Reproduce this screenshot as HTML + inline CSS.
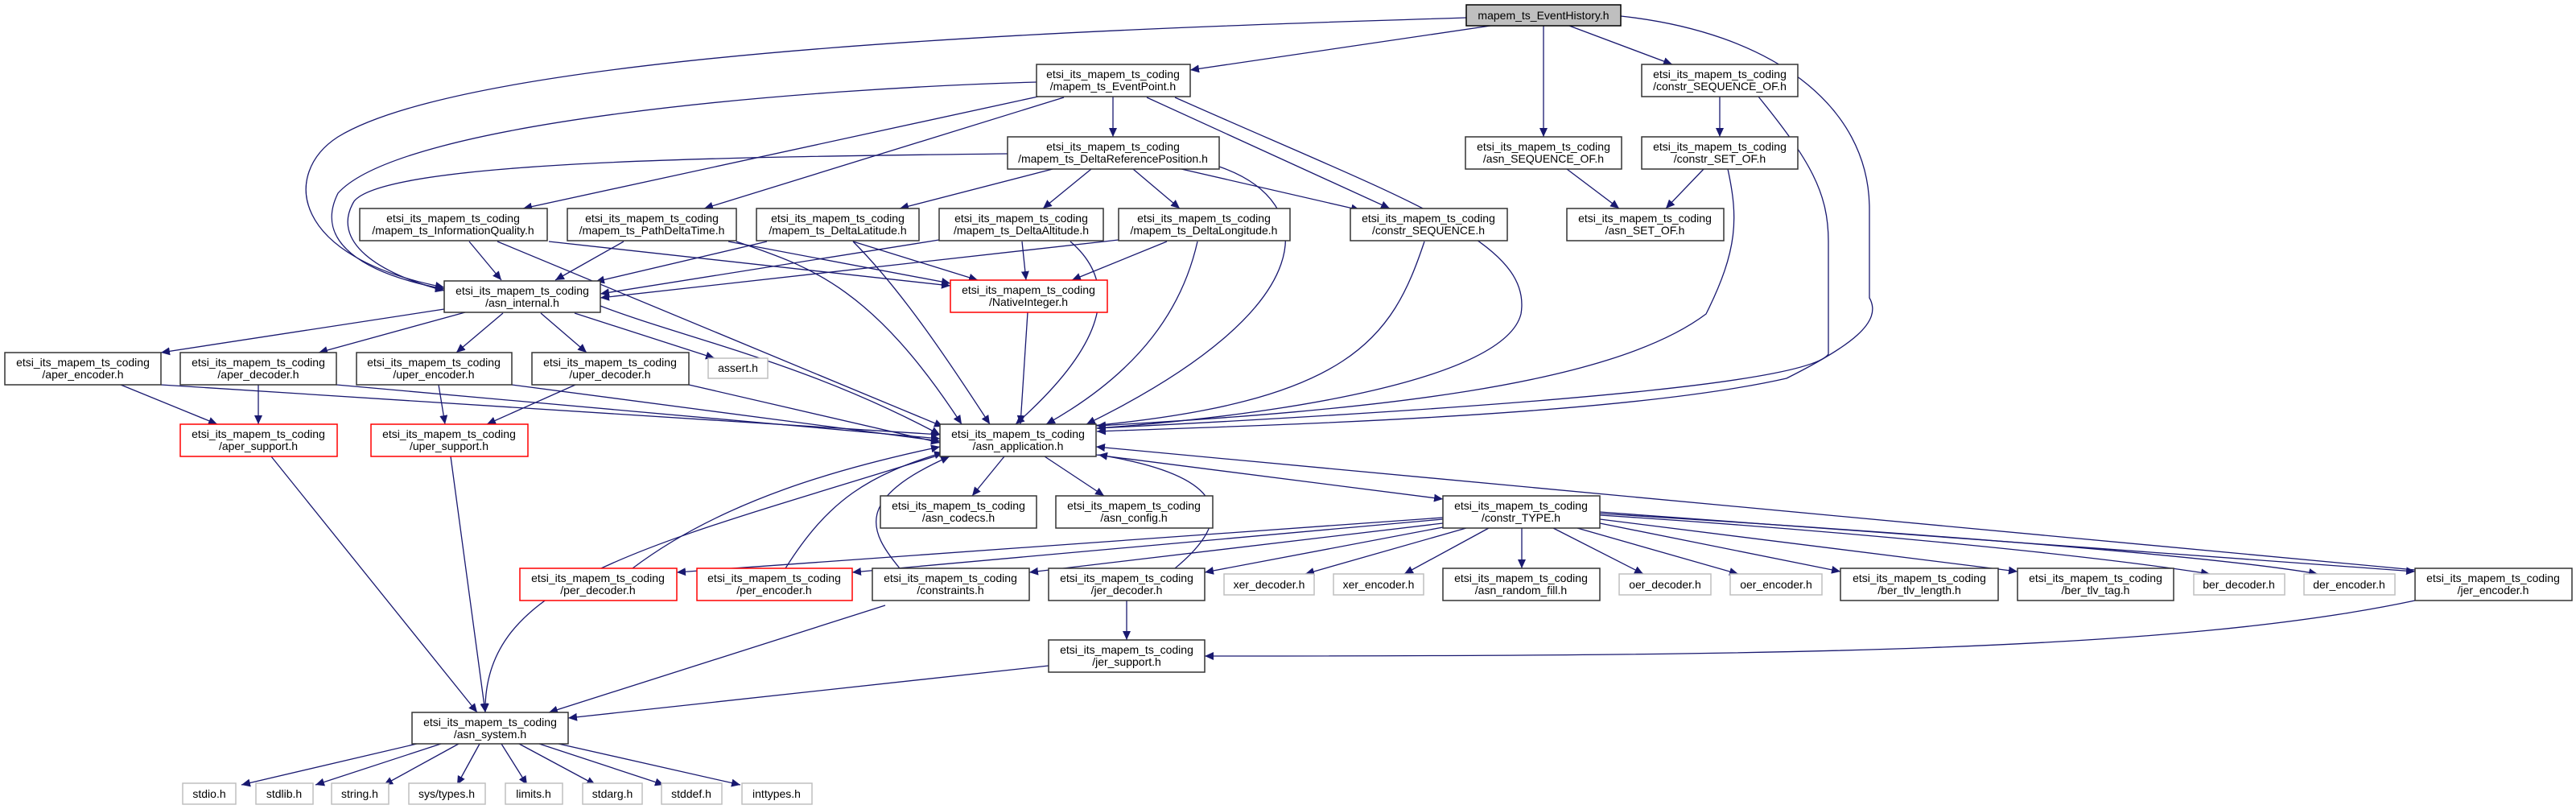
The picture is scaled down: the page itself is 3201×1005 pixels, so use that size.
<!DOCTYPE html>
<html><head><meta charset="utf-8"><style>
html,body{margin:0;padding:0;background:#fff;}
svg{display:block}
text{font-family:"Liberation Sans",sans-serif;font-size:14px;fill:#000;text-anchor:middle}
.e{fill:none;stroke:#191970;stroke-width:1.3}
.n{fill:#fff;stroke:#333;stroke-width:1.5}
.r{fill:#fff;stroke:#ff0000;stroke-width:1.5}
.g{fill:#fff;stroke:#bfbfbf;stroke-width:1.5}
</style></head><body>
<svg width="3201" height="1005" viewBox="0 0 3201 1005" xmlns="http://www.w3.org/2000/svg">
<defs><marker id="a" markerUnits="userSpaceOnUse" markerWidth="12" markerHeight="10" refX="11" refY="5" orient="auto"><path d="M0,0 L11,5 L0,10 z" fill="#191970"/></marker></defs>
<g class="e" marker-end="url(#a)">
<path d="M1852,32 L1479,87"/>
<path d="M1918,32 L1918,170"/>
<path d="M1950,32 L2078,80"/>
<path d="M1822,22 C1400,35 600,60 420,170 C350,215 360,320 552,357"/>
<path d="M2014,20 C2200,40 2323,130 2323,260 L2323,370 C2340,400 2300,430 2220,470 C2000,520 1500,530 1363,536"/>
<path d="M1288,102 C1000,110 500,150 420,240 C390,300 450,340 552,359"/>
<path d="M1290,120 L650,259"/>
<path d="M1322,121 L875,259"/>
<path d="M1383,120 L1383,170"/>
<path d="M1425,121 L1727,259"/>
<path d="M1460,121 C1750,250 1905,300 1890,390 C1870,470 1600,515 1363,532"/>
<path d="M1252,191 C900,195 480,200 440,250 C410,300 470,340 552,361"/>
<path d="M1308,210 L1118,259"/>
<path d="M1356,210 L1296,259"/>
<path d="M1408,210 L1466,259"/>
<path d="M1468,210 L1690,261"/>
<path d="M1515,207 C1640,250 1650,380 1350,527"/>
<path d="M583,300 L623,348"/>
<path d="M682,300 L1181,355"/>
<path d="M618,300 L1172,530"/>
<path d="M775,300 L690,348"/>
<path d="M905,300 L1181,352"/>
<path d="M915,300 C1000,330 1080,350 1195,527"/>
<path d="M953,300 L740,350"/>
<path d="M1060,300 L1215,348"/>
<path d="M1060,300 C1120,360 1180,450 1230,527"/>
<path d="M1167,298 L746,365"/>
<path d="M1270,300 L1275,348"/>
<path d="M1330,300 C1400,360 1360,440 1262,527"/>
<path d="M1390,298 L746,370"/>
<path d="M1450,300 L1332,348"/>
<path d="M1488,300 C1470,380 1420,460 1300,527"/>
<path d="M1277,388 L1268,527"/>
<path d="M1770,300 C1730,420 1680,500 1345,530"/>
<path d="M1947,210 L2012,259"/>
<path d="M2137,120 L2137,170"/>
<path d="M2117,210 L2070,259"/>
<path d="M2185,120 C2250,200 2272,240 2272,300 L2272,440 C2250,470 2000,500 1363,532"/>
<path d="M2147,210 C2160,270 2160,310 2120,390 C2000,480 1700,510 1363,529"/>
<path d="M552,384 L200,438"/>
<path d="M578,388 L396,438"/>
<path d="M625,389 L567,438"/>
<path d="M672,389 L729,438"/>
<path d="M714,389 L888,445"/>
<path d="M746,380 C850,420 1000,450 1168,540"/>
<path d="M150,478 L270,527"/>
<path d="M200,478 L1168,540"/>
<path d="M321,478 L321,527"/>
<path d="M418,478 L1168,545"/>
<path d="M545,478 L553,527"/>
<path d="M636,478 L1168,548"/>
<path d="M715,478 L605,527"/>
<path d="M856,478 L1168,550"/>
<path d="M337,567 L593,885"/>
<path d="M560,567 L603,885"/>
<path d="M1168,565 C800,680 600,720 603,885"/>
<path d="M1248,567 L1208,616"/>
<path d="M1298,567 L1372,616"/>
<path d="M1362,565 L1793,620"/>
<path d="M3001,708 L1362,555"/>
<path d="M1793,643 L841,711"/>
<path d="M1793,645 L1059,711"/>
<path d="M1793,650 L1279,711"/>
<path d="M1793,655 L1497,711"/>
<path d="M1822,656 L1622,713"/>
<path d="M1850,656 L1745,713"/>
<path d="M1891,656 L1891,706"/>
<path d="M1930,656 L2042,713"/>
<path d="M1960,656 L2160,713"/>
<path d="M1988,650 L2287,710"/>
<path d="M1988,645 L2507,710"/>
<path d="M1988,640 C2300,660 2600,690 2746,713"/>
<path d="M1988,638 C2350,660 2750,690 2880,713"/>
<path d="M1988,636 L3001,710"/>
<path d="M786,706 C900,620 1050,580 1168,555"/>
<path d="M976,706 C1030,620 1080,590 1172,562"/>
<path d="M1118,706 C1080,660 1060,620 1180,567"/>
<path d="M1460,706 C1540,640 1520,590 1365,565"/>
<path d="M1100,752 L682,885"/>
<path d="M1400,746 L1400,795"/>
<path d="M3001,746 C2700,810 2200,815 1497,815"/>
<path d="M1303,827 L706,892"/>
<path d="M518,924 L300,975"/>
<path d="M548,924 L392,975"/>
<path d="M570,924 L477,975"/>
<path d="M596,924 L568,975"/>
<path d="M623,924 L655,975"/>
<path d="M645,924 L740,975"/>
<path d="M670,924 L825,975"/>
<path d="M694,924 L920,975"/>
</g>
<rect x="1822" y="6" width="192" height="26" fill="#bfbfbf" stroke="#000" stroke-width="1.5"/><text x="1918" y="24">mapem_ts_EventHistory.h</text>
<g>
<rect class="n" x="1288" y="80" width="191" height="40"/><text x="1383" y="97">etsi_its_mapem_ts_coding</text><text x="1383" y="112">/mapem_ts_EventPoint.h</text>
<rect class="n" x="2040" y="80" width="194" height="40"/><text x="2137" y="97">etsi_its_mapem_ts_coding</text><text x="2137" y="112">/constr_SEQUENCE_OF.h</text>
<rect class="n" x="1252" y="170" width="263" height="40"/><text x="1383" y="187">etsi_its_mapem_ts_coding</text><text x="1383" y="202">/mapem_ts_DeltaReferencePosition.h</text>
<rect class="n" x="1821" y="170" width="194" height="40"/><text x="1918" y="187">etsi_its_mapem_ts_coding</text><text x="1918" y="202">/asn_SEQUENCE_OF.h</text>
<rect class="n" x="2040" y="170" width="194" height="40"/><text x="2137" y="187">etsi_its_mapem_ts_coding</text><text x="2137" y="202">/constr_SET_OF.h</text>
<rect class="n" x="447" y="259" width="233" height="40"/><text x="563" y="276">etsi_its_mapem_ts_coding</text><text x="563" y="291">/mapem_ts_InformationQuality.h</text>
<rect class="n" x="705" y="259" width="210" height="40"/><text x="810" y="276">etsi_its_mapem_ts_coding</text><text x="810" y="291">/mapem_ts_PathDeltaTime.h</text>
<rect class="n" x="940" y="259" width="202" height="40"/><text x="1041" y="276">etsi_its_mapem_ts_coding</text><text x="1041" y="291">/mapem_ts_DeltaLatitude.h</text>
<rect class="n" x="1167" y="259" width="204" height="40"/><text x="1269" y="276">etsi_its_mapem_ts_coding</text><text x="1269" y="291">/mapem_ts_DeltaAltitude.h</text>
<rect class="n" x="1390" y="259" width="213" height="40"/><text x="1496" y="276">etsi_its_mapem_ts_coding</text><text x="1496" y="291">/mapem_ts_DeltaLongitude.h</text>
<rect class="n" x="1678" y="259" width="195" height="40"/><text x="1775" y="276">etsi_its_mapem_ts_coding</text><text x="1775" y="291">/constr_SEQUENCE.h</text>
<rect class="n" x="1947" y="259" width="195" height="40"/><text x="2044" y="276">etsi_its_mapem_ts_coding</text><text x="2044" y="291">/asn_SET_OF.h</text>
<rect class="n" x="552" y="349" width="194" height="39"/><text x="649" y="366">etsi_its_mapem_ts_coding</text><text x="649" y="381">/asn_internal.h</text>
<rect class="r" x="1181" y="348" width="195" height="40"/><text x="1278" y="365">etsi_its_mapem_ts_coding</text><text x="1278" y="380">/NativeInteger.h</text>
<rect class="n" x="6" y="438" width="194" height="40"/><text x="103" y="455">etsi_its_mapem_ts_coding</text><text x="103" y="470">/aper_encoder.h</text>
<rect class="n" x="224" y="438" width="194" height="40"/><text x="321" y="455">etsi_its_mapem_ts_coding</text><text x="321" y="470">/aper_decoder.h</text>
<rect class="n" x="443" y="438" width="193" height="40"/><text x="539" y="455">etsi_its_mapem_ts_coding</text><text x="539" y="470">/uper_encoder.h</text>
<rect class="n" x="661" y="438" width="195" height="40"/><text x="758" y="455">etsi_its_mapem_ts_coding</text><text x="758" y="470">/uper_decoder.h</text>
<rect class="g" x="880" y="445" width="74" height="25"/><text x="917" y="462">assert.h</text>
<rect class="r" x="224" y="527" width="195" height="40"/><text x="321" y="544">etsi_its_mapem_ts_coding</text><text x="321" y="559">/aper_support.h</text>
<rect class="r" x="461" y="527" width="195" height="40"/><text x="558" y="544">etsi_its_mapem_ts_coding</text><text x="558" y="559">/uper_support.h</text>
<rect class="n" x="1168" y="527" width="194" height="40"/><text x="1265" y="544">etsi_its_mapem_ts_coding</text><text x="1265" y="559">/asn_application.h</text>
<rect class="n" x="1094" y="616" width="194" height="40"/><text x="1191" y="633">etsi_its_mapem_ts_coding</text><text x="1191" y="648">/asn_codecs.h</text>
<rect class="n" x="1312" y="616" width="195" height="40"/><text x="1409" y="633">etsi_its_mapem_ts_coding</text><text x="1409" y="648">/asn_config.h</text>
<rect class="n" x="1793" y="616" width="195" height="40"/><text x="1890" y="633">etsi_its_mapem_ts_coding</text><text x="1890" y="648">/constr_TYPE.h</text>
<rect class="r" x="646" y="706" width="195" height="40"/><text x="743" y="723">etsi_its_mapem_ts_coding</text><text x="743" y="738">/per_decoder.h</text>
<rect class="r" x="866" y="706" width="193" height="40"/><text x="962" y="723">etsi_its_mapem_ts_coding</text><text x="962" y="738">/per_encoder.h</text>
<rect class="n" x="1084" y="706" width="195" height="40"/><text x="1181" y="723">etsi_its_mapem_ts_coding</text><text x="1181" y="738">/constraints.h</text>
<rect class="n" x="1303" y="706" width="194" height="40"/><text x="1400" y="723">etsi_its_mapem_ts_coding</text><text x="1400" y="738">/jer_decoder.h</text>
<rect class="g" x="1521" y="713" width="112" height="26"/><text x="1577" y="731">xer_decoder.h</text>
<rect class="g" x="1657" y="713" width="112" height="26"/><text x="1713" y="731">xer_encoder.h</text>
<rect class="n" x="1793" y="706" width="195" height="40"/><text x="1890" y="723">etsi_its_mapem_ts_coding</text><text x="1890" y="738">/asn_random_fill.h</text>
<rect class="g" x="2012" y="713" width="114" height="26"/><text x="2069" y="731">oer_decoder.h</text>
<rect class="g" x="2150" y="713" width="114" height="26"/><text x="2207" y="731">oer_encoder.h</text>
<rect class="n" x="2287" y="706" width="196" height="40"/><text x="2385" y="723">etsi_its_mapem_ts_coding</text><text x="2385" y="738">/ber_tlv_length.h</text>
<rect class="n" x="2507" y="706" width="194" height="40"/><text x="2604" y="723">etsi_its_mapem_ts_coding</text><text x="2604" y="738">/ber_tlv_tag.h</text>
<rect class="g" x="2726" y="713" width="113" height="26"/><text x="2782" y="731">ber_decoder.h</text>
<rect class="g" x="2863" y="713" width="113" height="26"/><text x="2919" y="731">der_encoder.h</text>
<rect class="n" x="3001" y="706" width="195" height="40"/><text x="3098" y="723">etsi_its_mapem_ts_coding</text><text x="3098" y="738">/jer_encoder.h</text>
<rect class="n" x="1303" y="795" width="194" height="40"/><text x="1400" y="812">etsi_its_mapem_ts_coding</text><text x="1400" y="827">/jer_support.h</text>
<rect class="n" x="512" y="885" width="194" height="39"/><text x="609" y="902">etsi_its_mapem_ts_coding</text><text x="609" y="917">/asn_system.h</text>
<rect class="g" x="227" y="973" width="66" height="26"/><text x="260" y="991">stdio.h</text>
<rect class="g" x="318" y="973" width="71" height="26"/><text x="353" y="991">stdlib.h</text>
<rect class="g" x="412" y="973" width="71" height="26"/><text x="447" y="991">string.h</text>
<rect class="g" x="508" y="973" width="95" height="26"/><text x="555" y="991">sys/types.h</text>
<rect class="g" x="628" y="973" width="71" height="26"/><text x="663" y="991">limits.h</text>
<rect class="g" x="724" y="973" width="74" height="26"/><text x="761" y="991">stdarg.h</text>
<rect class="g" x="822" y="973" width="75" height="26"/><text x="859" y="991">stddef.h</text>
<rect class="g" x="922" y="973" width="87" height="26"/><text x="965" y="991">inttypes.h</text>
</g>
</svg>
</body></html>
